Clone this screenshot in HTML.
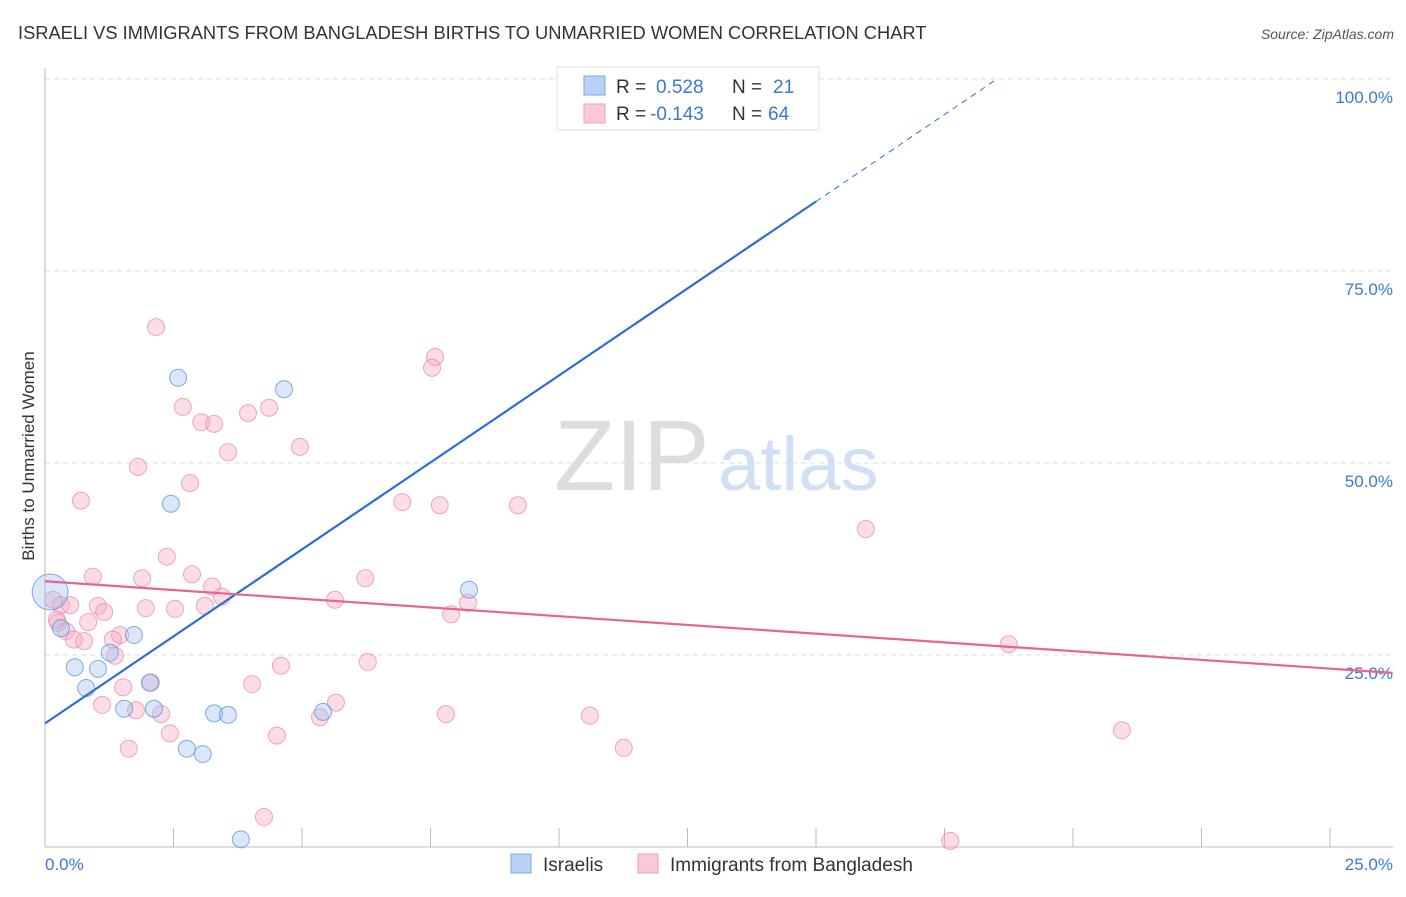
<!DOCTYPE html>
<html><head><meta charset="utf-8"><style>
body{margin:0;background:#fff;font-family:"Liberation Sans",sans-serif}
svg text{font-family:"Liberation Sans",sans-serif}
</style></head><body>
<svg width="1406" height="892">
<text x="18" y="39" font-size="18.3" fill="#333">ISRAELI VS IMMIGRANTS FROM BANGLADESH BIRTHS TO UNMARRIED WOMEN CORRELATION CHART</text>
<text x="1394" y="39" font-size="14" fill="#555" font-style="italic" text-anchor="end">Source: ZipAtlas.com</text>
<text x="554" y="490" font-size="100" fill="#ddd" font-family="Liberation Serif">ZIP</text>
<text x="718" y="490" font-size="76" fill="#cfe0f5">atlas</text>
<g id="grid"></g><g id="axes"></g><g id="pts"></g><g id="lines"></g>
<text x="34" y="456" font-size="17" fill="#333" text-anchor="middle" transform="rotate(-90 34 456)">Births to Unmarried Women</text>
<text x="45" y="870" font-size="17" fill="#3a78d8">0.0%</text>
<text x="1393" y="870" font-size="17" fill="#3a78d8" text-anchor="end">25.0%</text>
<g>
<rect x="557" y="67" width="262" height="63" fill="#fff" stroke="#ddd"/>
<rect x="584" y="76" width="21" height="19" fill="#b8d3f5" stroke="#7aa8e6"/>
<rect x="584" y="104" width="21" height="19" fill="#fbc8d7" stroke="#f0a0b8"/>
<text x="616" y="93" font-size="19" fill="#333">R =</text><text x="656" y="93" font-size="19" fill="#3a78d8">0.528</text>
<text x="732" y="93" font-size="19" fill="#333">N =</text><text x="773" y="93" font-size="19" fill="#3a78d8">21</text>
<text x="616" y="120" font-size="19" fill="#333">R =</text><text x="650" y="120" font-size="19" fill="#3a78d8">-0.143</text>
<text x="732" y="120" font-size="19" fill="#333">N =</text><text x="768" y="120" font-size="19" fill="#3a78d8">64</text>
</g>
<g>
<rect x="511" y="854" width="20" height="19" fill="#b8d3f5" stroke="#7aa8e6"/>
<text x="543" y="871" font-size="19" fill="#333">Israelis</text>
<rect x="638" y="854" width="20" height="19" fill="#fbc8d7" stroke="#f0a0b8"/>
<text x="670" y="871" font-size="19" fill="#333">Immigrants from Bangladesh</text>
</g>
</svg>
<script>
const blueX=[0.10,0.31,0.58,0.80,1.03,1.26,1.54,1.73,2.04,2.12,2.59,2.45,2.76,3.07,3.29,3.56,3.81,4.65,5.41,8.25,10.18];
const blueY=[33.2,28.5,23.4,20.7,23.2,25.3,18.0,27.6,21.4,18.0,61.1,44.7,12.8,12.1,17.4,17.2,1.0,59.6,17.6,33.5,100];
const pinkX=[2.16,7.59,7.53,2.68,3.04,3.29,3.95,4.36,3.56,4.96,1.81,2.82,0.70,6.95,7.68,9.20,15.97,2.37,0.93,1.89,2.86,6.23,3.25,3.44,0.16,0.31,0.49,1.03,1.15,1.96,2.53,3.11,5.64,8.23,7.90,0.25,0.41,0.84,1.46,1.32,0.56,0.76,1.36,18.75,1.52,2.06,4.03,4.59,6.28,1.11,1.77,2.26,5.66,5.35,7.80,10.60,2.43,4.51,1.63,11.26,20.95,4.26,17.61,0.23];
const pinkY=[67.7,63.8,62.4,57.3,55.3,55.1,56.5,57.2,51.4,52.1,49.5,47.4,45.1,44.9,44.5,44.5,41.4,37.8,35.2,35.0,35.5,35.0,33.9,32.6,32.2,31.5,31.5,31.4,30.6,31.1,31.0,31.4,32.2,31.8,30.3,29.2,28.1,29.3,27.6,27.0,27.0,26.8,24.9,26.4,20.8,21.4,21.2,23.6,24.1,18.5,17.8,17.3,18.8,16.9,17.3,17.1,14.8,14.5,12.8,12.9,15.2,3.9,0.8,29.6];
const yTicks=[25,50,75,100];
const xTicks=[0,2.5,5,7.5,10,12.5,15,17.5,20,22.5,25];
const blueLine=[16.1,4.53];
const pinkLine=[34.6,-0.455];
const NS='http://www.w3.org/2000/svg';
const sx=v=>45+v*51.4, sy=v=>847-v*7.68;
function mk(p,t,a){const e=document.createElementNS(NS,t);for(const k in a)e.setAttribute(k,a[k]);document.getElementById(p).appendChild(e);return e;}
yTicks.forEach(t=>{
 const l=mk('grid','line',{x1:45,x2:1393,y1:sy(t),y2:sy(t),stroke:'#ddd','stroke-dasharray':'5,4'});
 
 
 const tx=mk('grid','text',{x:1393,y:sy(t)+24,'font-size':17,fill:'#3a78d8','text-anchor':'end'});tx.textContent=t.toFixed(1)+'%';
 
 
});
const ax=mk('axes','line',{x1:45,x2:45,y1:68,y2:847,stroke:'#bbb'});


const bx=mk('axes','line',{x1:45,x2:1393,y1:847,y2:847,stroke:'#bbb'});


xTicks.forEach(t=>{const l=mk('axes','line',{x1:sx(t),x2:sx(t),y1:828,y2:847,stroke:'#bbb'});
 
 });
pinkX.forEach((x,i)=>{const c=mk('pts','circle',{cx:sx(x),cy:sy(pinkY[i]),r:8.5,fill:'rgba(248,170,195,0.4)',stroke:'rgba(236,130,165,0.7)','stroke-width':1});
 
 });
blueX.forEach((x,i)=>{const c=mk('pts','circle',{cx:sx(x),cy:sy(blueY[i]),r:i==0?18:8.5,fill:'rgba(160,195,240,0.4)',stroke:'rgba(80,140,220,0.7)','stroke-width':1});
 
 });
const bEnd=15, bMax=(100-blueLine[0])/blueLine[1];
const b1=mk('lines','line',{x1:sx(0),y1:sy(blueLine[0]),x2:sx(bEnd),y2:sy(blueLine[0]+blueLine[1]*bEnd),stroke:'#2a6fd6','stroke-width':2.2});


const b2=mk('lines','line',{x1:sx(bEnd),y1:sy(blueLine[0]+blueLine[1]*bEnd),x2:sx(bMax),y2:sy(100),stroke:'#2a6fd6','stroke-width':1,'stroke-dasharray':'6,5'});


const pEnd=26.22;
const p1=mk('lines','line',{x1:sx(0),y1:sy(pinkLine[0]),x2:sx(pEnd),y2:sy(pinkLine[0]+pinkLine[1]*pEnd),stroke:'#e8638f','stroke-width':2.2});


</script>
</body></html>
